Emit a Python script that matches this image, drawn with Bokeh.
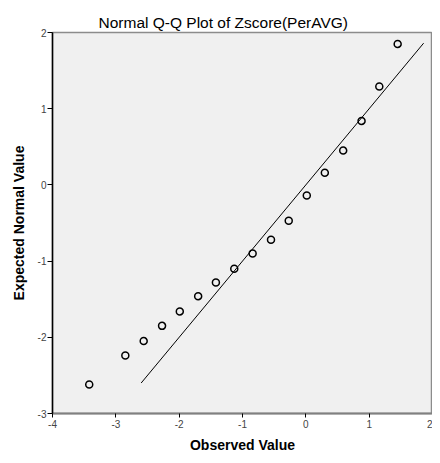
from bokeh.plotting import figure
from bokeh.models import Range1d, FixedTicker
from bokeh.embed import file_html
from bokeh.resources import INLINE

observed = [-3.42, -2.85, -2.56, -2.27, -1.99, -1.70, -1.42, -1.13, -0.84, -0.55,
            -0.27, 0.015, 0.30, 0.59, 0.88, 1.16, 1.45]
expected = [-2.62, -2.24, -2.05, -1.85, -1.66, -1.46, -1.28, -1.10, -0.90, -0.72,
            -0.47, -0.14, 0.16, 0.45, 0.84, 1.29, 1.85]
line_x = [-2.60, 1.86]
line_y = [-2.60, 1.86]
x_ticks = [-4, -3, -2, -1, 0, 1, 2]
y_ticks = [-3, -2, -1, 0, 1, 2]
title_text = "Normal Q-Q Plot of Zscore(PerAVG)"
x_label = "Observed Value"
y_label = "Expected Normal Value"

FONT = "Liberation Sans"

p = figure(width=432, height=455, output_backend="svg", toolbar_location=None,
           x_range=Range1d(-4, 2.0), y_range=Range1d(-3, 2),
           min_border_left=52, min_border_right=0, min_border_top=32, min_border_bottom=39)

p.title.text = title_text
p.title.text_font = FONT
p.title.text_font_size = "15.5px"
p.title.text_font_style = "normal"
p.title.text_color = "black"
p.title.align = "left"
p.title.offset = 46
p.title.standoff = 4

p.background_fill_color = "#F0F0F0"
p.border_fill_color = "white"
p.outline_line_color = "#8C8C8C"
p.outline_line_width = 1.5
p.xgrid.visible = False
p.ygrid.visible = False

for ax, ticks in ((p.xaxis[0], x_ticks), (p.yaxis[0], y_ticks)):
    ax.ticker = FixedTicker(ticks=ticks)
    ax.major_label_overrides = {t: str(t) for t in ticks}
    ax.minor_tick_line_color = None
    ax.major_tick_in = 0
    ax.major_label_text_font = FONT
    ax.major_label_text_font_size = "10px"
    ax.major_label_text_color = "#444444"
    ax.axis_label_text_font = FONT
    ax.axis_label_text_font_size = "14px"
    ax.axis_label_text_font_style = "bold"
    ax.axis_label_text_color = "black"

p.xaxis.axis_label = x_label
p.yaxis.axis_label = y_label

p.xaxis.axis_line_color = "#808080"
p.xaxis.axis_line_width = 2
p.xaxis.major_tick_line_color = "black"
p.xaxis.major_tick_out = 4
p.xaxis.major_label_standoff = 2
p.xaxis.axis_label_standoff = 6

p.yaxis.axis_line_color = "black"
p.yaxis.axis_line_width = 1.5
p.yaxis.major_tick_line_color = "black"
p.yaxis.major_tick_out = 5
p.yaxis.major_label_standoff = 1
p.yaxis.axis_label_standoff = 8

p.line(line_x, line_y, line_color="black", line_width=1)
p.scatter(observed, expected, marker="circle", size=7, fill_color=None,
          line_color="black", line_width=1.5)

open("out.html", "w").write(file_html(p, INLINE))
